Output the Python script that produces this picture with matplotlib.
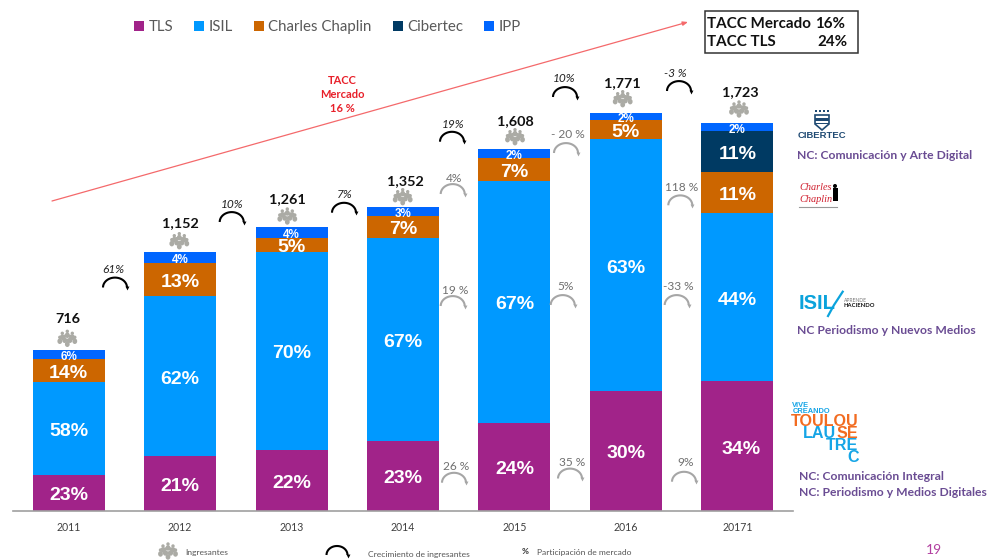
import numpy as np
import matplotlib
matplotlib.use("Agg")
import matplotlib.pyplot as plt
from matplotlib.patches import Ellipse, Polygon, Rectangle

plt.rcParams['font.family'] = ['Lato', 'DejaVu Sans']

years = ['2011', '2012', '2013', '2014', '2015', '2016', '20171']
totals = [716, 1152, 1261, 1352, 1608, 1771, 1723]

# students per institution
tls = [160, 242, 271, 310, 391, 531, 575]
isil = [414, 714, 881, 904, 1075, 1121, 748]
chaplin = [101, 144, 61, 98, 105, 85, 183]
cibertec = [0, 0, 0, 0, 0, 0, 184]
ipp = [41, 52, 48, 40, 37, 34, 33]

tls_pct = ['23%', '21%', '22%', '23%', '24%', '30%', '34%']
isil_pct = ['58%', '62%', '70%', '67%', '67%', '63%', '44%']
chaplin_pct = ['14%', '13%', '5%', '7%', '7%', '5%', '11%']
cibertec_pct = ['', '', '', '', '', '', '11%']
ipp_pct = ['6%', '4%', '4%', '3%', '2%', '2%', '2%']

growth = ['61%', '10%', '7%', '19%', '10%', '-3 %']
share_change = ['4%', '19 %', '26 %', '- 20 %', '5%', '35 %', '118 %', '-33 %', '9%']

PURPLE = '#A12389'
BLUE = '#0099FF'
ORANGE = '#CC6600'
NAVY = '#003A63'
ROYAL = '#0066FF'
NC_COLOR = '#6A4C93'
ICON_GRAY = '#ABABA5'
SCALE = 0.2248  # px per student
BASE_Y = 510.7

fig = plt.figure(figsize=(10, 5.6), dpi=100)
ax = fig.add_axes([13 / 1000, (560 - BASE_Y) / 560, 780 / 1000, BASE_Y / 560])
x = np.arange(len(years))

series = [('TLS', tls, tls_pct, PURPLE), ('ISIL', isil, isil_pct, BLUE),
          ('Charles Chaplin', chaplin, chaplin_pct, ORANGE),
          ('Cibertec', cibertec, cibertec_pct, NAVY), ('IPP', ipp, ipp_pct, ROYAL)]
bottom = np.zeros(len(years))
for name, vals, pcts, color in series:
    ax.bar(x, vals, 0.646, bottom=bottom, color=color, label=name)
    for i, p in enumerate(pcts):
        if p:
            size = 8.4 if name == 'IPP' else 14
            # the 2017 TLS label sits off centre in the original
            dx = 0.03 if (name == 'TLS' and i == 6) else 0
            ax.annotate(p, (i + dx, bottom[i] + vals[i] / 2), xytext=(0, -0.7), textcoords='offset points',
                        ha='center', va='center_baseline', color='white', fontweight='bold',
                        fontsize=size, family='Liberation Sans')
    bottom += np.array(vals)

ax.set_xlim(-0.5, 6.5)
ax.set_ylim(0, BASE_Y / SCALE)
ax.set_xticks(x, years)
ax.set_yticks([])
ax.tick_params(axis='x', length=0, pad=8, labelsize=7.6, labelcolor='#404040')
for s in ['top', 'left', 'right']:
    ax.spines[s].set_visible(False)
ax.spines['bottom'].set_color('#A0A0A0')
ax.spines['bottom'].set_linewidth(1.2)
ax.patch.set_visible(False)
ax.legend(ncols=5, loc='center', bbox_to_anchor=(327.5 / 1000, 1 - 27 / 560),
          bbox_transform=fig.transFigure, frameon=False, fontsize=10.8, labelcolor='#595959',
          handlelength=0.65, handleheight=0.65, handletextpad=0.3, columnspacing=1.42,
          borderpad=0, borderaxespad=0)

# everything around the bars is placed in figure pixels
ov = fig.add_axes([0, 0, 1, 1])
ov.set_xlim(0, 1000)
ov.set_ylim(560, 0)
ov.axis('off')


def people(cx, cy):
    for dx, dy in [(-5, -5), (0, -7), (5, -5), (-7.5, -1), (7.5, -1), (-2.7, -2), (2.7, -2), (0, 2)]:
        ov.add_patch(Ellipse((cx + dx, cy + dy), 3.4, 3.4, color=ICON_GRAY, lw=0))
        ov.add_patch(Ellipse((cx + dx, cy + dy + 3.9), 4.8, 5.6, color=ICON_GRAY, lw=0))


def arc(cx, top, color, width=24, height=11):
    t = np.linspace(np.pi, 2 * np.pi, 40)
    ax_x = cx + width / 2 * np.cos(t)
    ax_y = top + height + height * 0.9 * np.sin(t)
    ov.plot(ax_x, ax_y, color=color, lw=1.5, solid_capstyle='butt')
    ov.plot(ax_x[-1], ax_y[-1] + 0.5, marker='v', ms=2.8, color=color, mew=0)


# totals and people icons
total_x = [67.7, 180.7, 287.7, 405, 515, 622, 740]
total_y = [319, 223, 199.3, 180.7, 120.7, 83.3, 92.3]
icon_x = [67.3, 179.3, 287.3, 402.7, 515, 622.7, 739]
icon_y = [338.3, 240.7, 216, 196.7, 136.7, 98.7, 109]
for t, tx, ty, ix, iy in zip(totals, total_x, total_y, icon_x, icon_y):
    ov.text(tx, ty, f'{t:,}', ha='center', va='center', fontweight='bold', fontsize=10.4, color='#111111')
    people(ix, iy)

# growth of new students
growth_tx = [113, 232, 344.7, 452.7, 563.7, 675.7]
growth_ty = [269.3, 205, 194.7, 124, 79, 73.3]
growth_ax = [115, 231.7, 344, 452, 565, 679]
growth_ay = [276.5, 211, 201.7, 130.7, 86, 80]
for lab, tx, ty, ax_, ay in zip(growth, growth_tx, growth_ty, growth_ax, growth_ay):
    ov.text(tx, ty, lab, ha='center', va='center', style='italic', fontsize=8.6, color='#222222')
    arc(ax_, ay, 'black')

# market share change
share_tx = [454.3, 454.7, 456, 568, 565.3, 571.7, 682, 678.3, 685.3]
share_ty = [178.7, 290.7, 466.7, 135, 287, 462.3, 187.7, 287, 462.7]
share_ax = [452.7, 452.7, 454, 566, 562.7, 570, 680.3, 676.7, 684]
share_ay = [183, 295, 471.7, 142, 294, 467.5, 194.3, 294, 470.7]
for lab, tx, ty, ax_, ay in zip(share_change, share_tx, share_ty, share_ax, share_ay):
    ov.text(tx, ty, lab, ha='center', va='center', fontsize=8.6, color='#707070')
    arc(ax_, ay, '#A6A6A6')

# TACC arrow and box
ov.annotate('', xy=(688, 22), xytext=(52, 201),
            arrowprops=dict(arrowstyle='-|>,head_length=0.3,head_width=0.12', color='#F4696B', lw=0.9, shrinkA=0, shrinkB=0))
for lab, ly in zip(['TACC', 'Mercado', '16 %'], [80, 94.5, 108.5]):
    ov.text(342, ly, lab, ha='center', va='center', color='#E8202A', fontweight='bold', fontsize=8)
ov.add_patch(Rectangle((704.7, 10.7), 153.6, 42.6, fill=False, ec='#333333', lw=1.1))
ov.text(707.3, 23.5, 'TACC Mercado', va='center', fontsize=10.9, fontweight='bold', color='#111111')
ov.text(845, 23.5, '16%', va='center', ha='right', fontsize=10.9, fontweight='bold', color='#111111')
ov.text(707.3, 42.5, 'TACC TLS', va='center', fontsize=10.9, fontweight='bold', color='#111111')
ov.text(847, 42.5, '24%', va='center', ha='right', fontsize=10.9, fontweight='bold', color='#111111')

# Cibertec logo
CIB = '#1F4A73'
ov.add_patch(Polygon([(815, 115), (829, 115), (829, 124), (822, 130), (815, 124)], closed=True,
                     fc='white', ec=CIB, lw=1.2))
ov.add_patch(Rectangle((815, 118), 14, 2.5, color=CIB, lw=0))
ov.add_patch(Rectangle((815, 122.5), 14, 1.6, color=CIB, lw=0))
for bx in [816, 820, 824, 828]:
    ov.add_patch(Rectangle((bx - 0.6, 110), 1.6, 1.6, color=CIB, lw=0))
ov.text(822, 135.7, 'CIBERTEC', ha='center', va='center', fontsize=6.8, fontweight='bold', color=CIB,
        family='Liberation Sans')
ov.text(796.7, 155.7, 'NC: Comunicación y Arte Digital', va='center', fontsize=8.7, fontweight='bold', color=NC_COLOR)

# Charles Chaplin logo
for lab, ly in zip(['Charles', 'Chaplin'], [188, 199]):
    ov.text(799, ly, lab, va='center', fontsize=7.4, style='italic', color='#D0202F', family='Liberation Serif')
ov.add_patch(Ellipse((835, 186), 4, 4, color='black', lw=0))
ov.add_patch(Rectangle((832.5, 188), 5, 13, color='black', lw=0))
ov.plot([799, 837], [207, 207], color='#999999', lw=0.8)

# ISIL logo
ISIL_C = '#0BA3DC'
ov.text(798.5, 303.3, 'ISIL', va='center', fontsize=14.5, fontweight='bold', color=ISIL_C, family='Liberation Sans')
ov.plot([842.7, 834, 828], [291.7, 305, 316], color=ISIL_C, lw=1.6)
ov.text(844, 300, 'APRENDE', va='center', fontsize=3.6, color='#777777')
ov.text(843, 305.7, 'HACIENDO', va='center', fontsize=4.2, fontweight='bold', color='#111111')
ov.text(796.7, 330, 'NC Periodismo y Nuevos Medios', va='center', fontsize=8.7, fontweight='bold', color=NC_COLOR)

# Toulouse logo
T_BLUE = '#16A5E6'
T_ORANGE = '#F26C21'
lfont = dict(va='center', fontweight='bold', family='Liberation Sans')
ov.text(792.3, 408.3, 'VIVE\nCREANDO', fontsize=5.4, color=T_BLUE, linespacing=0.85, **lfont)
ov.text(858.5, 421, 'TOULOU', ha='right', fontsize=11.6, color=T_ORANGE, **lfont)
ov.text(858.5, 433, 'SE', ha='right', fontsize=11.6, color=T_ORANGE, **lfont)
ov.text(836.5, 433, 'LAU', ha='right', fontsize=11.6, color=T_BLUE, **lfont)
ov.text(858.5, 445.3, 'TRE', ha='right', fontsize=11.6, color=T_BLUE, **lfont)
ov.text(858.5, 457.3, 'C', ha='right', fontsize=11.6, color=T_BLUE, **lfont)
ov.text(799, 476.7, 'NC: Comunicación Integral', va='center', fontsize=8.7, fontweight='bold', color=NC_COLOR)
ov.text(799, 492.3, 'NC: Periodismo y Medios Digitales', va='center', fontsize=8.7, fontweight='bold', color=NC_COLOR)

# bottom key
people(168, 551)
ov.text(185.7, 553, 'Ingresantes', va='center', fontsize=6.1, color='#555555')
arc(337, 545, 'black', width=21, height=10)
ov.text(368, 554, 'Crecimiento de ingresantes', va='center', fontsize=6.1, color='#555555')
ov.text(525, 551.7, '%', ha='center', va='center', fontsize=6, fontweight='bold', color='#333333')
ov.text(536.7, 553, 'Participación de mercado', va='center', fontsize=6.1, color='#555555')
ov.text(933.7, 550, '19', ha='center', va='center', fontsize=10, color='#B23FA0')

fig.savefig('out.png', dpi=100)
